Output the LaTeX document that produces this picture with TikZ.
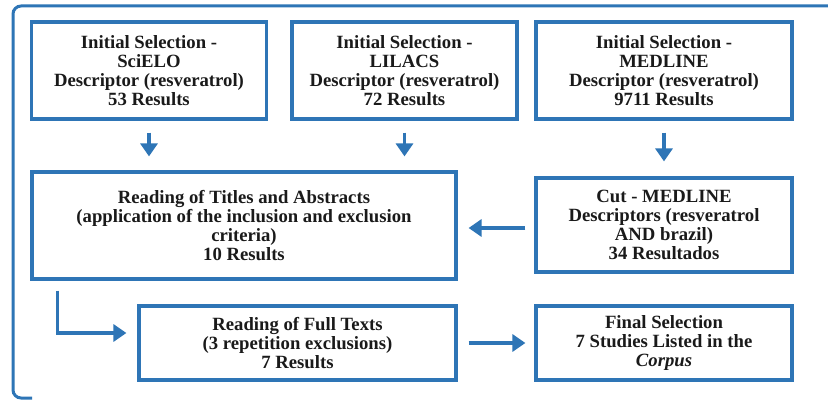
\documentclass[tikz,border=0pt]{standalone}
\usepackage{fontspec}
\setmainfont{Liberation Serif}
\usetikzlibrary{arrows.meta,calc}
\definecolor{fblue}{HTML}{2E75B6}
\definecolor{ftext}{HTML}{1A1A1A}
\begin{document}
\begin{tikzpicture}[x=1pt,y=-1pt,
  box/.style={draw=fblue,line width=3.2pt,fill=white,inner sep=0pt,align=center,
    font=\fontsize{18.7}{19}\selectfont\bfseries,text=ftext},
  flow/.style={draw=fblue,line width=3.5pt,-{Triangle[width=17pt,length=13pt]}}]
\useasboundingbox (0,0) rectangle (828,401);
\fill[white] (0,0) rectangle (828,401);
\draw[fblue,line width=3pt,rounded corners=8pt] (840,6) -- (13,6) -- (13,398) -- (32,398);
\node[box,minimum width=235pt,minimum height=97pt] (b1) at (149,70.5)
  {Initial Selection -\\SciELO\\Descriptor (resveratrol)\\53 Results};
\node[box,minimum width=225pt,minimum height=97pt] (b2) at (404.5,70.5)
  {Initial Selection -\\LILACS\\Descriptor (resveratrol)\\72 Results};
\node[box,minimum width=256pt,minimum height=97pt] (b3) at (664,70.5)
  {Initial Selection -\\MEDLINE\\Descriptor (resveratrol)\\9711 Results};
\node[box,minimum width=424pt,minimum height=107pt] (b4) at (244,225.5)
  {Reading of Titles and Abstracts\\(application of the inclusion and exclusion\\criteria)\\10 Results};
\node[box,minimum width=256pt,minimum height=94pt] (b5) at (664,225)
  {Cut - MEDLINE\\Descriptors (resveratrol\\AND brazil)\\34 Resultados};
\node[box,minimum width=317pt,minimum height=74pt] (b6) at (297.5,343)
  {Reading of Full Texts\\(3 repetition exclusions)\\7 Results};
\node[box,minimum width=256pt,minimum height=74pt] (b7) at (664,343)
  {Final Selection\\7 Studies Listed in the\\\textit{Corpus}};
\draw[flow,shorten <=12pt,shorten >=14pt] (b1.south) -- (b1.south |- b4.north);
\draw[flow,shorten <=12pt,shorten >=14pt] (b2.south) -- (b2.south |- b4.north);
\draw[flow,shorten <=12pt,shorten >=15pt] (b3.south) -- (b5.north);
\draw[flow,shorten <=9pt,shorten >=11pt] ($(b5.west)+(0,3)$) -- ($(b4.east |- b5.west)+(0,3)$);
\draw[flow,shorten <=11pt,shorten >=9pt] (b6.east) -- (b7.west);
\draw[flow,shorten >=11pt] ($(b4.south west)+(27,10)$) |- ($(b6.west)+(0,-10)$);
\end{tikzpicture}
\end{document}
